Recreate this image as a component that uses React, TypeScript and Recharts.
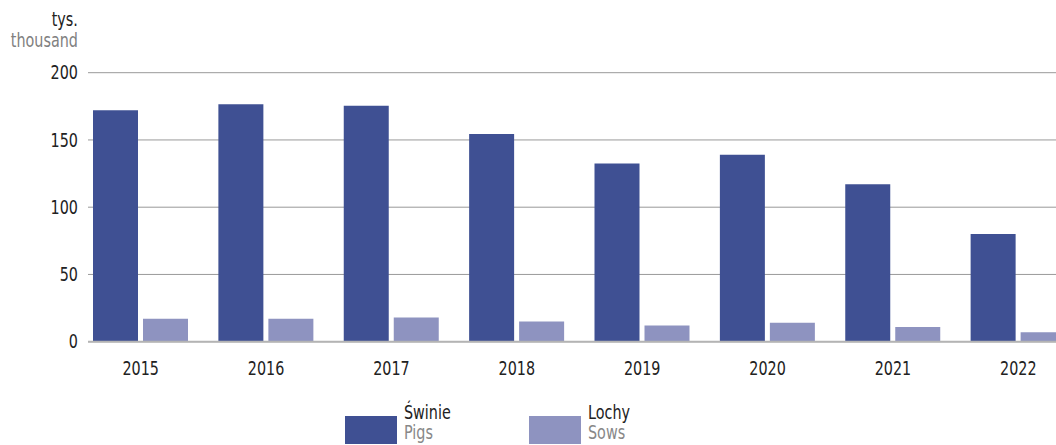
import { BarChart, Bar, XAxis, YAxis, CartesianGrid } from 'recharts'

const years = ['2015', '2016', '2017', '2018', '2019', '2020', '2021', '2022']
const pigs = [172, 176.5, 175.5, 154.5, 132.5, 139, 117, 80]
const sows = [17, 17, 18, 15, 12, 14, 11, 7]
const yTicks = [0, 50, 100, 150, 200]

const FONT = "'DejaVu Sans Condensed', 'DejaVu Sans', sans-serif"
const PIG = '#3f5093'
const SOW = '#8e93c0'
const SQUEEZE = 0.84

const chartData = years.map((y, i) => ({ year: y, pigs: pigs[i], sows: sows[i] }))

// narrow text, since there is no condensed font installed
function Narrow({ children, color, origin = 'left' }: { children: any; color: string; origin?: string }) {
  return (
    <div style={{ color, transform: `scaleX(${SQUEEZE})`, transformOrigin: origin, whiteSpace: 'nowrap' }}>{children}</div>
  )
}

function XTick(props: any) {
  const { x, y, payload } = props
  return (
    <text transform={`translate(${x},${y}) scale(${SQUEEZE},1)`} textAnchor="middle" dy="0.71em" fill="#222" fontSize={19} fontFamily={FONT}>
      {payload.value}
    </text>
  )
}

function YTick(props: any) {
  const { x, y, payload } = props
  return (
    <text transform={`translate(${x},${y}) scale(${SQUEEZE},1)`} textAnchor="end" dy="0.355em" fill="#222" fontSize={19} fontFamily={FONT}>
      {payload.value}
    </text>
  )
}

function LegendItem({ color, pl, en, left }: { color: string; pl: string; en: string; left: number }) {
  return (
    <div style={{ position: 'absolute', left, top: 416, display: 'flex' }}>
      <div style={{ width: 52, height: 28, background: color }} />
      <div style={{ marginLeft: 7, marginTop: -14, fontSize: 19, lineHeight: '20px' }}>
        <Narrow color="#222">{pl}</Narrow>
        <Narrow color="#888">{en}</Narrow>
      </div>
    </div>
  )
}

export default function App() {
  return (
    <div style={{ position: 'absolute', left: 0, top: 0, width: 1056, height: 445, overflow: 'hidden', background: '#fff', fontFamily: FONT }}>
      <div style={{ position: 'absolute', right: 1056 - 78, top: 9, textAlign: 'right', fontSize: 19, lineHeight: '21px' }}>
        <Narrow color="#222" origin="right">tys.</Narrow>
        <Narrow color="#808080" origin="right">thousand</Narrow>
      </div>
      <BarChart
        width={1081}
        height={445}
        data={chartData}
        margin={{ top: 72.7, right: 0, left: 0, bottom: 73.3 }}
        barSize={45}
        barGap={5}
      >
        <CartesianGrid horizontal vertical={false} stroke="#999" strokeWidth={1} />
        <XAxis
          dataKey="year"
          height={30}
          padding={{ left: -10, right: 0 }}
          tickLine={false}
          tickMargin={14}
          axisLine={{ stroke: '#b4b4b4', strokeWidth: 2 }}
          tick={<XTick />}
        />
        <YAxis
          width={88}
          domain={[0, 200]}
          ticks={yTicks}
          axisLine={false}
          tickLine={false}
          tickMargin={4}
          tick={<YTick />}
        />
        <Bar dataKey="pigs" fill={PIG} isAnimationActive={false} />
        <Bar dataKey="sows" fill={SOW} isAnimationActive={false} />
      </BarChart>
      <LegendItem color={PIG} pl="Świnie" en="Pigs" left={345} />
      <LegendItem color={SOW} pl="Lochy" en="Sows" left={529} />
    </div>
  )
}
